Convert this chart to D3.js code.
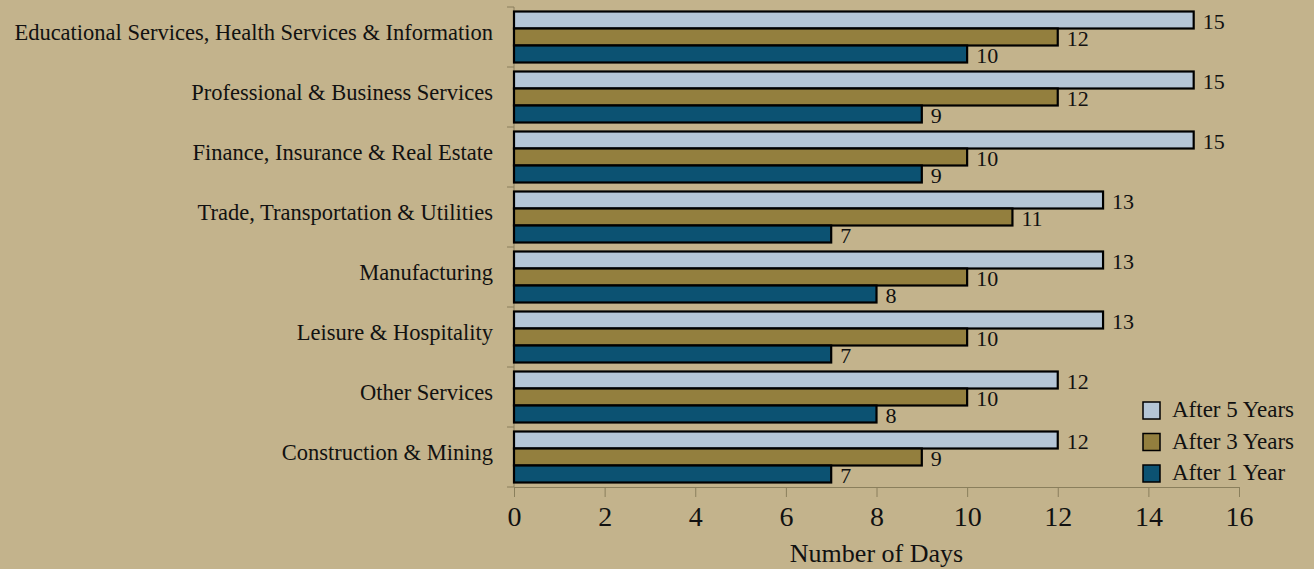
<!DOCTYPE html>
<html>
<head>
<meta charset="utf-8">
<script src="https://cdn.jsdelivr.net/npm/d3@7"></script>
<style>
  body { margin: 0; background: #c3b38c; }
  svg { display: block; }
  text { font-family: "Liberation Serif", serif; fill: #111; }
</style>
</head>
<body>
<div class="chart-wrapper"></div>
<script>
let w = 1314;
let h = 569;

let categories = [
  "Educational Services, Health Services & Information",
  "Professional & Business Services",
  "Finance, Insurance & Real Estate",
  "Trade, Transportation & Utilities",
  "Manufacturing",
  "Leisure & Hospitality",
  "Other Services",
  "Construction & Mining"
];
let seriesNames = ["After 5 Years", "After 3 Years", "After 1 Year"];
let after5 = [15, 15, 15, 13, 13, 13, 12, 12];
let after3 = [12, 12, 10, 11, 10, 10, 10, 9];
let after1 = [10, 9, 9, 7, 8, 7, 8, 7];
let xTicks = [0, 2, 4, 6, 8, 10, 12, 14, 16];
let colors = ["#b5c6d6", "#937f3e", "#0c5272"];

let plotLeft = 514, plotRight = 1239, plotTop = 7, plotBottom = 487;

let viz = d3.select(".chart-wrapper")
  .append("svg")
  .attr("width", w)
  .attr("height", h)
  .style("background-color", "#c3b38c");

let xScale = d3.scaleLinear().domain([0, 16]).range([plotLeft, plotRight]);
let yScale = d3.scaleBand().domain(categories).range([plotTop, plotBottom]).paddingInner(0.15).paddingOuter(0.075);
let subScale = d3.scaleBand().domain(seriesNames).range([0, yScale.bandwidth()]);

let data = categories.map((c, i) => ({
  category: c,
  values: [after5[i], after3[i], after1[i]].map((v, k) => ({ series: seriesNames[k], value: v, k: k }))
}));

// axes
let xAxis = d3.axisBottom(xScale).tickValues(xTicks).tickSize(10).tickSizeOuter(0).tickPadding(9);
let xg = viz.append("g").attr("transform", "translate(0," + plotBottom + ")").call(xAxis);
xg.select(".domain").attr("stroke", "#8a7f5c");
xg.selectAll(".tick line").attr("stroke", "#8a7f5c");
xg.selectAll(".tick text").style("font-size", "28px").attr("fill", "#111");

// left axis with ticks between bands
let bandEdges = categories.map(c => yScale(c) - yScale.step() * yScale.paddingInner() / 2);
bandEdges.push(plotBottom);
viz.append("line")
  .attr("x1", plotLeft).attr("x2", plotLeft).attr("y1", plotTop).attr("y2", plotBottom)
  .attr("stroke", "#8a7f5c");
viz.selectAll(".ytick").data(bandEdges).enter().append("line")
  .attr("class", "ytick")
  .attr("x1", plotLeft - 7).attr("x2", plotLeft)
  .attr("y1", d => d).attr("y2", d => d)
  .attr("stroke", "#8a7f5c");

viz.selectAll(".catlabel").data(categories).enter().append("text")
  .attr("class", "catlabel")
  .attr("x", plotLeft - 21)
  .attr("y", d => yScale(d) + yScale.bandwidth() * 0.46)
  .attr("text-anchor", "end")
  .attr("dominant-baseline", "middle")
  .style("font-size", "22.5px")
  .text(d => d);

// bars
let groups = viz.selectAll(".group").data(data).enter().append("g")
  .attr("class", "group")
  .attr("transform", d => "translate(0," + yScale(d.category) + ")");

groups.selectAll("rect").data(d => d.values).enter().append("rect")
  .attr("x", xScale(0))
  .attr("y", d => subScale(d.series))
  .attr("width", d => xScale(d.value) - xScale(0))
  .attr("height", subScale.bandwidth())
  .attr("fill", (d) => colors[d.k])
  .attr("stroke", "#000")
  .attr("stroke-width", 2.2);

groups.selectAll(".vlabel").data(d => d.values).enter().append("text")
  .attr("class", "vlabel")
  .attr("x", d => xScale(d.value) + 9)
  .attr("y", d => subScale(d.series) + subScale.bandwidth() / 2 + 4)
  .attr("dominant-baseline", "middle")
  .style("font-size", "22px")
  .text(d => d.value);

// axis title
viz.append("text")
  .attr("x", (plotLeft + plotRight) / 2)
  .attr("y", 562)
  .attr("text-anchor", "middle")
  .style("font-size", "26px")
  .text("Number of Days");

// legend
let legend = viz.append("g").attr("transform", "translate(1143,402)");
seriesNames.forEach((s, k) => {
  let row = legend.append("g").attr("transform", "translate(0," + (k * 31.5) + ")");
  row.append("rect").attr("width", 17).attr("height", 17)
    .attr("fill", colors[k]).attr("stroke", "#000").attr("stroke-width", 1.5);
  row.append("text").attr("x", 29).attr("y", 10).attr("dominant-baseline", "middle")
    .style("font-size", "23px").text(s);
});
</script>
</body>
</html>
